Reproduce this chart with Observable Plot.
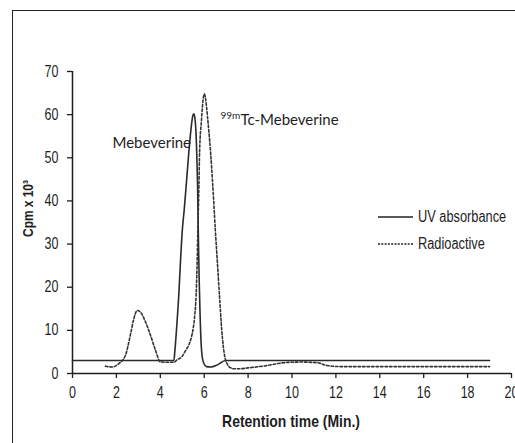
<!DOCTYPE html>
<html><head><meta charset="utf-8">
<script src="https://cdn.jsdelivr.net/npm/d3@7"></script>
<script src="https://cdn.jsdelivr.net/npm/@observablehq/plot@0.6"></script>
<style>
html,body{margin:0;padding:0;background:#fff;}
#wrap{position:relative;width:515px;height:443px;overflow:hidden;}
#border{position:absolute;left:12px;top:10px;width:700px;height:700px;border-left:1.5px solid #222;border-top:1.5px solid #222;pointer-events:none;}
#legend{position:absolute;left:378px;top:203px;font-family:"Liberation Sans",Arial,sans-serif;font-size:16px;color:#1e1e1e;}
#legend .row{display:flex;align-items:center;height:27px;white-space:nowrap;}
#legend svg{margin-right:5px;}
#legend span{display:inline-block;transform:scaleX(0.8);transform-origin:left center;}
</style></head>
<body><div id="wrap"><div id="chart"></div><div id="border"></div>
<div id="legend"></div></div>
<script>
// X and Y ticks
const xTicks = [0,2,4,6,8,10,12,14,16,18,20];
const yTicks = [0,10,20,30,40,50,60,70];

// UV absorbance (solid)
const uvTime = [0,4.62,4.66,4.75,4.84,4.92,5.0,5.09,5.18,5.3,5.4,5.47,5.53,5.58,5.62,5.66,5.7,5.73,5.77,5.81,5.86,5.92,6.0,6.1,6.3,6.6,6.97,19];
const uvValue = [3,3,5,11,18,26,33,38,43.6,51.3,56.7,59.5,60.2,59,56.5,51,43,33,22,14,7,3.5,2.2,1.6,1.5,2.0,3,3];

// Radioactive (dashed)
const radTime = [1.5,1.81,2.11,2.41,2.64,2.79,2.95,3.1,3.33,3.55,3.78,4.0,4.3,4.62,4.77,5.0,5.15,5.3,5.42,5.5,5.57,5.63,5.67,5.71,5.76,5.79,5.88,5.95,6.01,6.08,6.16,6.29,6.39,6.51,6.61,6.7,6.8,6.94,7.05,7.15,7.35,7.6,8.0,8.87,9.63,10.4,11.15,11.6,12.2,19];
const radValue = [1.7,1.5,2.3,4.2,9,12.6,14.6,14.2,11.9,8.9,5.4,2.7,2.6,2.6,3.2,4.0,5.3,6.6,8.5,10.5,13.5,18,24,33,43.6,51.3,59,63.5,64.8,63,59,51.3,43.6,33,25,17.7,10,3.8,2.2,1.5,1.1,1.1,1.3,1.85,2.5,2.65,2.5,1.85,1.6,1.6];

// Series names
const seriesNames = ["UV absorbance","Radioactive"];

// Annotations
const annText = ["Mebeverine","Tc-Mebeverine"];
const annTime = [1.82,7.65];
const annValue = [53.4,58.8];
const supText = ["99m"];
const supTime = [6.74];
const supValue = [59.8];

// Axis titles
const xTitle = "Retention time (Min.)";
const yTitle = "Cpm x 10³";

const uv = uvTime.map((t,i)=>({t, v: uvValue[i]}));
const rad = radTime.map((t,i)=>({t, v: radValue[i]}));
const ann = annText.map((s,i)=>({s, t: annTime[i], v: annValue[i]}));
const sup = supText.map((s,i)=>({s, t: supTime[i], v: supValue[i]}));

const sans = '"Liberation Sans",Arial,sans-serif';
const ink = "#1e1e1e";

const plot = Plot.plot({
  width: 515, height: 443,
  marginLeft: 72, marginRight: 4, marginTop: 71, marginBottom: 70,
  x: {domain: [0,20]},
  y: {domain: [0,70]},
  style: {fontFamily: sans, fontSize: "16px", color: ink, background: "transparent", overflow: "hidden"},
  marks: [
    Plot.axisX({ticks: xTicks, tickSize: 5, tickPadding: 8, label: null, tickFormat: d=>String(d), strokeWidth: 1.3, fontSize: 16}),
    Plot.axisY({ticks: yTicks, tickSize: 5, tickPadding: 9, label: null, tickFormat: d=>String(d), strokeWidth: 1.3, fontSize: 16}),
    Plot.ruleX([0], {y1: 0, y2: 70, stroke: ink, strokeWidth: 1.5}),
    Plot.ruleY([0], {x1: 0, x2: 20, stroke: ink, strokeWidth: 1.5}),
    Plot.line(uv, {x: "t", y: "v", stroke: "#2a2a2a", strokeWidth: 1.6, curve: "monotone-x"}),
    Plot.line(rad, {x: "t", y: "v", stroke: "#333", strokeWidth: 1.6, strokeDasharray: "2.5,2", curve: "monotone-x"}),
    Plot.text([yTitle], {frameAnchor: "left", dx: -44, dy: -14, rotate: -90, fontWeight: "bold", fontSize: 14.5, fill: ink, textAnchor: "middle"}),
    Plot.text([xTitle], {frameAnchor: "bottom", dx: -1, dy: 48, fontWeight: "bold", fontSize: 17, fill: ink, textAnchor: "middle", lineAnchor: "middle"}),
    Plot.text(ann, {x: "t", y: "v", text: "s", textAnchor: "start", lineAnchor: "middle", fontFamily: "Lato, sans-serif", fontSize: 15, fill: ink}),
    Plot.text(sup, {x: "t", y: "v", text: "s", textAnchor: "start", lineAnchor: "middle", fontFamily: "Lato, sans-serif", fontSize: 10, fill: ink})
  ]
});
document.getElementById("chart").appendChild(plot);

// Emulate a narrow typeface (Arial Narrow) by horizontally compressing glyphs
const narrowTexts = new Set([xTitle, yTitle]);
plot.querySelectorAll("text").forEach(t => {
  const p = t.parentNode.getAttribute("aria-label");
  const isTick = p === "x-axis tick label" || p === "y-axis tick label";
  if (isTick || narrowTexts.has(t.textContent)) {
    const w = t.getComputedTextLength();
    if (w > 0) {
      t.setAttribute("textLength", (w * (isTick ? 0.78 : 0.82)).toFixed(2));
      t.setAttribute("lengthAdjust", "spacingAndGlyphs");
    }
  }
});

// Legend
const legend = document.getElementById("legend");
seriesNames.forEach((name, i) => {
  const row = document.createElement("div");
  row.className = "row";
  const dash = i === 0 ? "" : 'stroke-dasharray="2,1.3"';
  row.innerHTML = `<svg width="35" height="4"><line x1="0" y1="2" x2="35" y2="2" stroke="#222" stroke-width="${i===0?1.6:1.4}" ${dash}/></svg><span>${name}</span>`;
  legend.appendChild(row);
});
</script>
</body></html>
